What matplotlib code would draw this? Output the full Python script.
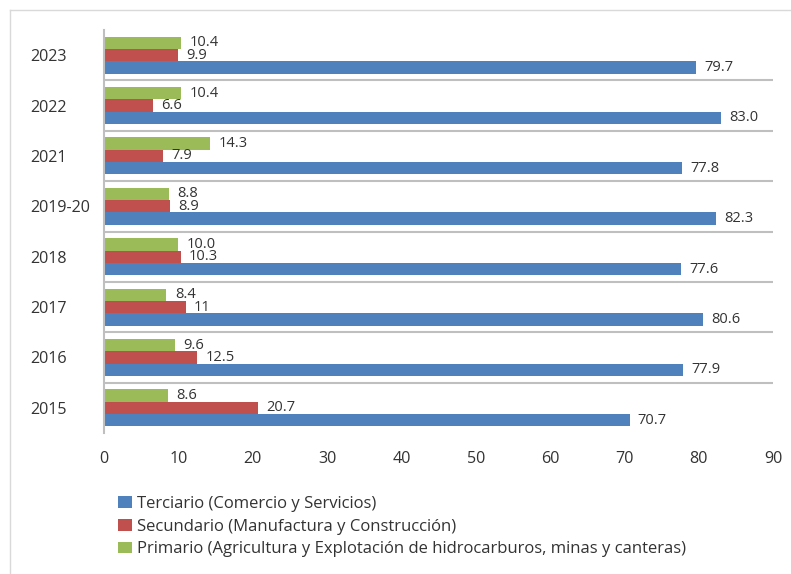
import matplotlib
matplotlib.use("Agg")
import matplotlib.pyplot as plt
from matplotlib.lines import Line2D
import numpy as np

plt.rcParams['font.family'] = ['Open Sans', 'DejaVu Sans']

categories = ["2015", "2016", "2017", "2018", "2019-20", "2021", "2022", "2023"]
terciario = [70.7, 77.9, 80.6, 77.6, 82.3, 77.8, 83.0, 79.7]
secundario = [20.7, 12.5, 11, 10.3, 8.9, 7.9, 6.6, 9.9]
primario = [8.6, 9.6, 8.4, 10.0, 8.8, 14.3, 10.4, 10.4]
terciario_lbl = ["70.7", "77.9", "80.6", "77.6", "82.3", "77.8", "83.0", "79.7"]
secundario_lbl = ["20.7", "12.5", "11", "10.3", "8.9", "7.9", "6.6", "9.9"]
primario_lbl = ["8.6", "9.6", "8.4", "10.0", "8.8", "14.3", "10.4", "10.4"]
series_names = ["Terciario (Comercio y Servicios)",
                "Secundario (Manufactura y Construcción)",
                "Primario (Agricultura y Explotación de hidrocarburos, minas y canteras)"]
xticks = [0, 10, 20, 30, 40, 50, 60, 70, 80, 90]

c_blue = "#4F81BD"
c_red = "#C0504D"
c_green = "#9BBB59"
txt = "#333333"

W, H = 791, 574
fig = plt.figure(figsize=(W / 100, H / 100), dpi=100)
ax = fig.add_axes([104 / W, 1 - 433 / H, (773 - 104) / W, (433 - 30) / H])

y = np.arange(len(categories))
h = 0.245
b1 = ax.barh(y - h, terciario, height=h, color=c_blue, label=series_names[0])
b2 = ax.barh(y, secundario, height=h, color=c_red, label=series_names[1])
b3 = ax.barh(y + h, primario, height=h, color=c_green, label=series_names[2])

for bars, lbls in ((b1, terciario_lbl), (b2, secundario_lbl), (b3, primario_lbl)):
    ax.bar_label(bars, labels=lbls, padding=6, fontsize=10.5, color=txt)

ax.set_xlim(0, 90)
ax.set_ylim(-0.5, len(categories) - 0.5)
ax.set_xticks(xticks)
ax.set_xticklabels([str(v) for v in xticks], fontsize=11.6, color=txt)
ax.set_yticks(y)
ax.set_yticklabels(categories, fontsize=11.6, color=txt, ha='left')
ax.tick_params(axis='y', length=0, pad=53)
ax.tick_params(axis='x', length=0, pad=13)

# category boundary gridlines
for b in np.arange(0.5, len(categories) - 0.5, 1.0):
    ax.axhline(b, color="#bfbfbf", lw=1.5, zorder=0)

for s in ("top", "right", "bottom"):
    ax.spines[s].set_visible(False)
ax.spines["left"].set_color("#bfbfbf")
ax.spines["left"].set_linewidth(1.5)

leg = fig.legend(handles=[b1, b2, b3], labels=series_names, loc="upper left",
                 bbox_to_anchor=(118 / W, 1 - 496 / H), frameon=False,
                 fontsize=12, handlelength=0.85, handleheight=0.72,
                 handletextpad=0.3, labelspacing=0.4, borderpad=0, borderaxespad=0)
for t in leg.get_texts():
    t.set_color(txt)

# outer chart border
fig.add_artist(Line2D([10 / W, 10 / W], [0, 1 - 10 / H], transform=fig.transFigure,
                      color="#d9d9d9", lw=1))
fig.add_artist(Line2D([10 / W, 1], [1 - 10 / H, 1 - 10 / H], transform=fig.transFigure,
                      color="#d9d9d9", lw=1))

fig.savefig("out.png", dpi=100)
